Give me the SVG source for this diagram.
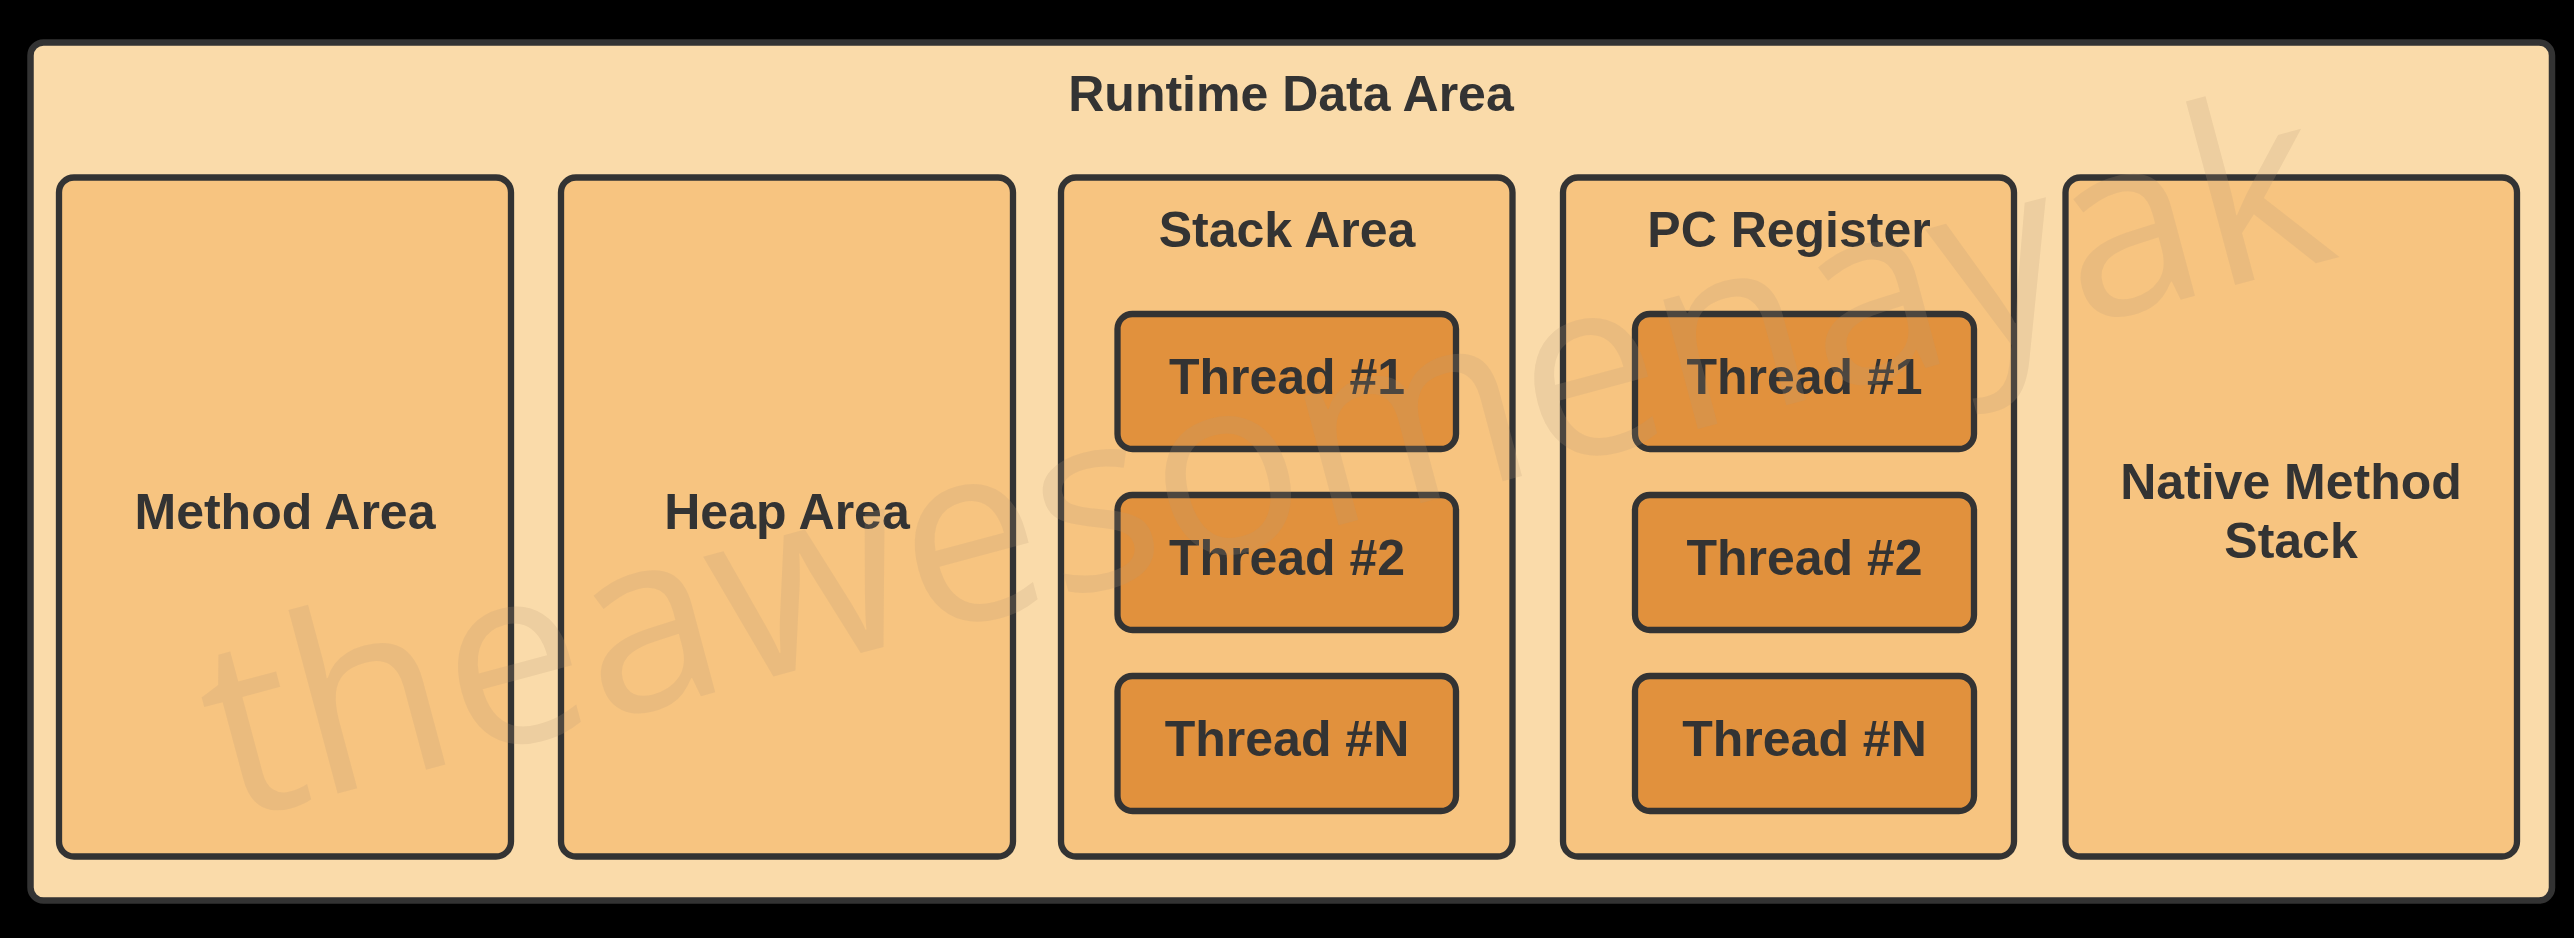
<svg xmlns="http://www.w3.org/2000/svg" width="2574" height="938" viewBox="0 0 2574 938">
<style>
.outer{fill:#FADBAA;stroke:#333333;stroke-width:6.5}
.col{fill:#F7C480;stroke:#333333;stroke-width:6.3}
.thr{fill:#E1913D;stroke:#333333;stroke-width:6.3}
.t{font-family:"Liberation Sans",Arial,sans-serif;font-weight:bold;font-size:50px;fill:#333333;text-anchor:middle}
.wm{font-family:"Open Sans","Noto Sans",sans-serif;font-size:250px;fill:#B89A7A;fill-opacity:0.2}
</style>
<rect width="2574" height="938" fill="#000000"/>
<g id="runtime-data-area">
<rect class="outer" x="30.5" y="42.5" width="2521.5" height="858" rx="13"/>
<text class="t" x="1291" y="111">Runtime Data Area</text>
</g>
<g id="method-area">
<rect class="col" x="59" y="177.5" width="452" height="679" rx="15"/>
<text class="t" x="285" y="529">Method Area</text>
</g>
<g id="heap-area">
<rect class="col" x="561" y="177.5" width="452" height="679" rx="15"/>
<text class="t" x="787" y="529">Heap Area</text>
</g>
<g id="stack-area">
<rect class="col" x="1061" y="177.5" width="451.5" height="679" rx="15"/>
<text class="t" x="1287" y="247">Stack Area</text>
</g>
<g id="stack-thread-1">
<rect class="thr" x="1117.5" y="314" width="338.5" height="135" rx="15"/>
<text class="t" x="1287" y="394">Thread #1</text>
</g>
<g id="stack-thread-2">
<rect class="thr" x="1117.5" y="495" width="338.5" height="135" rx="15"/>
<text class="t" x="1287" y="575">Thread #2</text>
</g>
<g id="stack-thread-n">
<rect class="thr" x="1117.5" y="676" width="338.5" height="135" rx="15"/>
<text class="t" x="1287" y="756">Thread #N</text>
</g>
<g id="pc-register">
<rect class="col" x="1563" y="177.5" width="451" height="679" rx="15"/>
<text class="t" x="1789" y="247">PC Register</text>
</g>
<g id="pc-thread-1">
<rect class="thr" x="1635" y="314" width="339" height="135" rx="15"/>
<text class="t" x="1804.5" y="394">Thread #1</text>
</g>
<g id="pc-thread-2">
<rect class="thr" x="1635" y="495" width="339" height="135" rx="15"/>
<text class="t" x="1804.5" y="575">Thread #2</text>
</g>
<g id="pc-thread-n">
<rect class="thr" x="1635" y="676" width="339" height="135" rx="15"/>
<text class="t" x="1804.5" y="756">Thread #N</text>
</g>
<g id="native-method-stack">
<rect class="col" x="2065.5" y="177.5" width="451.5" height="679" rx="15"/>
<text class="t" x="2291" y="499">Native Method</text>
<text class="t" x="2291" y="558">Stack</text>
</g>
<g id="connectors"></g>
<text class="wm" transform="translate(231 822) rotate(-15)" x="0" y="0">theawesomenayak</text>
</svg>
